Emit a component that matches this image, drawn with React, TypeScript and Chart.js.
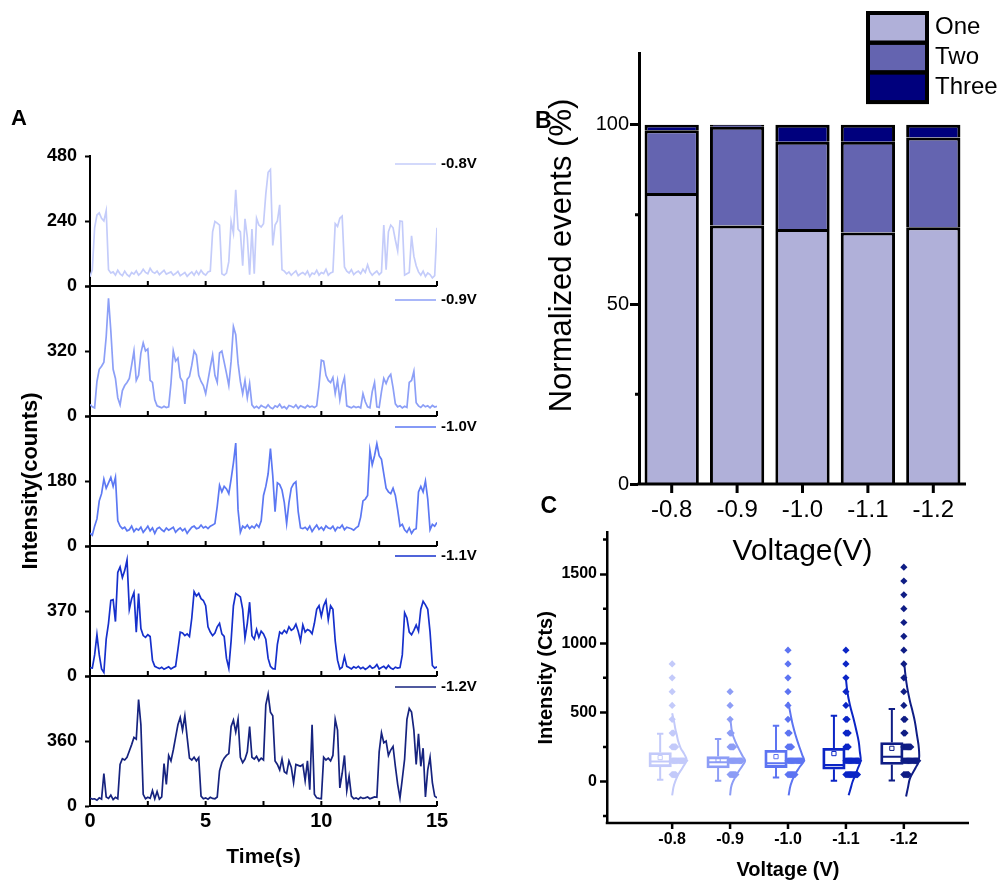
import React, { useEffect, useRef } from 'react';
import { Chart, registerables } from 'chart.js';

Chart.register(...registerables);

const FONT = '"Liberation Sans", Arial, Helvetica, sans-serif';
Chart.defaults.font.family = FONT;
Chart.defaults.color = '#000';

// ---------------- Panel A: single-molecule intensity traces ----------------
const TIME_S = Array.from({ length: 151 }, (_, i) => i / 10);

const TRACE_08 = [
  34, 60, 215, 262, 270, 250, 240, 278, 60, 48,
  52, 40, 58, 45, 38, 55, 42, 35, 50, 44,
  56, 40, 48, 62, 50, 45, 65, 52, 47, 55,
  42, 50, 58, 44, 48, 52, 40, 46, 54, 38,
  44, 50, 36, 45, 52, 40, 55, 42, 58, 46,
  40, 52, 55, 200, 238, 232, 225, 45, 40, 48,
  90, 238, 195, 355, 210, 200, 75, 248, 180, 42,
  210, 45, 250, 225, 218, 230, 340, 420, 430, 150,
  225, 240, 300, 60, 55, 45, 52, 40, 48, 56,
  38, 45, 50, 42, 55, 35, 48, 44, 58, 40,
  50, 46, 62, 40, 48, 52, 230, 220, 250, 258,
  70, 55, 48, 60, 42, 50, 55, 45, 62, 50,
  78, 52, 40, 48, 55, 42, 50, 225, 60, 200,
  225, 215, 170, 130, 240, 238, 40, 45, 50, 185,
  110, 75, 52, 40, 55, 35, 48, 42, 30, 38,
  215,
];

const TRACE_09 = [
  57, 45, 40, 170, 230, 245, 265, 390, 580, 420,
  230, 185, 90, 55, 125, 150, 165, 185, 250, 320,
  175, 200, 310, 360, 320, 330, 175, 165, 80, 50,
  45, 40, 48, 42, 45, 160, 320, 270, 285, 190,
  170, 60, 180, 195, 250, 320, 300, 200, 170, 150,
  110, 175, 240, 300, 200, 165, 310, 320, 265, 210,
  150, 270, 440, 400, 260, 170, 110, 175, 90, 160,
  55, 40, 48, 38, 52, 45, 40, 55, 42, 36,
  50, 44, 58, 40, 46, 35, 52, 48, 42, 55,
  38, 50, 45, 40, 52, 44, 48, 42, 50, 150,
  275, 270, 200, 175, 165, 190, 110, 175, 80, 150,
  190, 50, 45, 40, 48, 42, 46, 40, 110, 70,
  45, 40, 120, 165, 45, 42, 120, 185, 160, 190,
  205, 140, 60, 45, 50, 40, 48, 42, 165, 175,
  220, 65, 50, 42, 55, 45, 50, 40, 52, 44,
  48,
];

const TRACE_10 = [
  36, 30, 55, 75, 125, 145, 185, 160, 175, 190,
  165, 190, 70, 55, 48, 52, 42, 45, 55, 40,
  48, 44, 52, 38, 46, 55, 42, 50, 35, 48,
  52, 45, 40, 50, 44, 48, 52, 38, 45, 50,
  42, 48, 35, 44, 52, 55, 48, 50, 58, 50,
  54, 48, 55, 58, 62, 110, 168, 150, 165, 158,
  145, 185, 230, 285, 100, 38, 55, 50, 58, 48,
  55, 50, 60, 52, 70, 140, 165, 200, 270, 195,
  95, 175, 170, 155, 120, 62, 120, 160, 172, 178,
  95, 50, 48, 52, 45, 55, 40, 50, 58, 46,
  52, 44, 56, 50, 48, 55, 42, 52, 50, 58,
  45, 52, 50, 48, 44, 50, 55, 80, 125, 130,
  140, 265, 225, 250, 283, 250, 240, 200, 160, 150,
  145, 160, 140, 100, 55, 60, 45, 38, 50, 35,
  45, 48, 150, 165, 150, 180, 130, 45, 60, 55,
  65,
];

const TRACE_11 = [
  47, 45, 120, 235, 120, 40, 20, 210, 300, 430,
  435, 310, 590, 620, 560, 600, 660, 380, 440, 475,
  250, 470, 270, 230, 220, 235, 225, 90, 55, 48,
  42, 50, 38, 45, 52, 40, 48, 55, 150, 250,
  245, 230, 240, 225, 330, 480, 455, 470, 440, 430,
  400, 280, 250, 230, 245, 280, 300, 240, 225, 100,
  45, 200, 400, 470, 460, 450, 380, 215, 300, 420,
  230, 210, 265, 220, 255, 240, 210, 100, 55, 42,
  40, 180, 250, 240, 260, 245, 280, 260, 270, 295,
  255, 200, 290, 250, 265, 258, 240, 300, 380, 400,
  340, 400, 430, 320, 400, 380, 200, 90, 40, 50,
  110, 55, 48, 40, 52, 45, 55, 42, 50, 38,
  46, 58, 44, 50, 65, 40, 48, 55, 42, 60,
  45, 38, 50, 45, 48, 120, 360, 330, 250, 235,
  260, 290, 255, 380, 425, 405, 380, 250, 60, 45,
  52,
];

const TRACE_12 = [
  45, 38, 40, 32, 45, 38, 180, 50, 42, 60,
  35, 48, 40, 230, 262, 255, 270, 305, 340, 380,
  370, 590, 450, 65, 40, 48, 42, 85, 40, 80,
  38, 50, 235, 120, 280, 250, 310, 380, 450, 490,
  420, 500, 380, 265, 255, 270, 250, 268, 55, 40,
  45, 38, 48, 42, 40, 50, 195, 240, 265, 280,
  290, 440, 475, 410, 480, 270, 240, 260, 300, 440,
  270, 260, 275, 250, 265, 255, 560, 620, 520, 500,
  250, 230, 200, 260, 190, 180, 250, 215, 130, 230,
  225, 220, 230, 140, 250, 90, 450, 65, 45, 42,
  40, 270, 255, 265, 250, 280, 480, 420, 100, 180,
  280, 85, 165, 55, 40, 45, 38, 48, 42, 45,
  50, 40, 45, 50, 48, 300, 405, 350, 360, 280,
  310, 330, 220, 120, 45, 150, 260, 480, 540, 520,
  420, 230, 400, 220, 320, 50, 200, 270, 130, 55,
  45,
];

const TRACES = [TRACE_08, TRACE_09, TRACE_10, TRACE_11, TRACE_12];
const TRACE_LABELS = ['-0.8V', '-0.9V', '-1.0V', '-1.1V', '-1.2V'];
const TRACE_AXIS_MAX = [480, 640, 360, 740, 720];
const TRACE_TICK_STEP = [240, 320, 180, 370, 360];
const TRACE_COLORS = ['#c4ccfa', '#8c9ff7', '#5c78f3', '#1630cc', '#16237f'];

// ---------------- Panel B: normalized event fractions ----------------
const VOLTAGES = ['-0.8', '-0.9', '-1.0', '-1.1', '-1.2'];
const SHARE_ONE = [81, 72, 71, 70, 71.5];
const SHARE_TWO = [17.5, 27.5, 24.3, 25.3, 25];
const SHARE_THREE = [1.5, 0.5, 4.7, 4.7, 3.5];
const STEP_COLORS = ['#b0b0d9', '#6464b0', '#00007d'];

// ---------------- Panel C: intensity distributions ----------------
const BOX_Q1 = [106, 98, 101, 89, 123];
const BOX_Q3 = [210, 180, 226, 240, 282];
const BOX_MEDIAN = [144, 139, 132, 120, 179];
const BOX_MEAN = [173, 156, 180, 202, 240];
const WHISKER_LOW = [13, 5, 29, 5, 8];
const WHISKER_HIGH = [345, 308, 404, 476, 525];

const DOT_BINS = [50, 150, 250, 350, 450, 550, 650, 750, 850, 950, 1050, 1150, 1250, 1350, 1450, 1550];
const DOT_COUNTS_08 = [4, 12, 4, 2, 1, 1, 1, 1, 1];
const DOT_COUNTS_09 = [6, 11, 4, 2, 1, 1, 1];
const DOT_COUNTS_10 = [7, 13, 4, 2, 1, 1, 1, 1, 1, 1];
const DOT_COUNTS_11 = [11, 12, 3, 3, 2, 1, 1, 1, 1, 1];
const DOT_COUNTS_12 = [5, 13, 7, 2, 2, 1, 1, 1, 1, 1, 1, 1, 1, 1, 1, 1];

// fitted distribution curves: intensity levels and relative density
const CURVE_Y_08 = [-100, -24, 48, 100, 156, 200, 240, 290, 336, 380, 432, 493];
const CURVE_D_08 = [0, 0.12, 0.37, 0.65, 0.9, 0.75, 0.54, 0.38, 0.29, 0.2, 0.12, 0];
const CURVE_Y_09 = [-100, -24, 48, 120, 150, 180, 240, 288, 355, 451];
const CURVE_D_09 = [0, 0.1, 0.4, 0.8, 0.94, 0.8, 0.53, 0.33, 0.13, 0.02];
const CURVE_Y_10 = [-100, -24, 48, 108, 151, 192, 264, 336, 408, 480, 552, 576];
const CURVE_D_10 = [0.04, 0.17, 0.42, 0.75, 1.0, 0.89, 0.67, 0.47, 0.3, 0.17, 0.05, 0];
const CURVE_Y_11 = [-100, -48, 0, 48, 96, 151, 216, 288, 360, 457, 553, 649, 745];
const CURVE_D_11 = [0.17, 0.3, 0.42, 0.59, 0.75, 0.92, 0.87, 0.8, 0.67, 0.47, 0.25, 0.09, 0];
const CURVE_Y_12 = [-108, -48, 24, 96, 150, 240, 337, 433, 505, 577, 673, 769, 865];
const CURVE_D_12 = [0.14, 0.25, 0.39, 0.72, 0.94, 0.94, 0.82, 0.69, 0.55, 0.39, 0.22, 0.1, 0.02];

const DOT_COUNTS = [DOT_COUNTS_08, DOT_COUNTS_09, DOT_COUNTS_10, DOT_COUNTS_11, DOT_COUNTS_12];
const CURVE_Y = [CURVE_Y_08, CURVE_Y_09, CURVE_Y_10, CURVE_Y_11, CURVE_Y_12];
const CURVE_D = [CURVE_D_08, CURVE_D_09, CURVE_D_10, CURVE_D_11, CURVE_D_12];
const DIST_COLORS = ['#c3cafa', '#8d9df6', '#5d74f2', '#0b25c6', '#0f1d85'];

// layout constants (category units on the panel C x axis)
const BOX_SHIFT = -0.207;
const DOT_STEP = 0.02;
const DENSITY_SCALE = 0.276;

function font(size: number, bold = false) {
  return { family: FONT, size, weight: bold ? 'bold' : 'normal' } as any;
}

// bottom axis line plus tick marks (inward = pointing up into the plot)
function xAxisDecor(lineWidth: number, tickLen: number, inward: boolean) {
  return {
    id: 'xAxisDecor',
    afterDraw(chart: any) {
      const s = chart.scales.x;
      const { ctx, chartArea } = chart;
      const y = chartArea.bottom;
      ctx.save();
      ctx.strokeStyle = '#000';
      ctx.lineWidth = lineWidth;
      ctx.lineCap = 'butt';
      ctx.beginPath();
      ctx.moveTo(chartArea.left - lineWidth / 2, y);
      ctx.lineTo(chartArea.right, y);
      s.ticks.forEach((t: any) => {
        const p = s.getPixelForValue(t.value);
        ctx.moveTo(p, y);
        ctx.lineTo(p, inward ? y - tickLen : y + tickLen);
      });
      ctx.stroke();
      ctx.restore();
    },
  };
}

function traceLegend(label: string, color: string, dy: number) {
  return {
    id: 'traceLegend',
    afterDraw(chart: any) {
      const { ctx, chartArea } = chart;
      const y = chartArea.top + dy;
      ctx.save();
      ctx.strokeStyle = color;
      ctx.lineWidth = 1.6;
      ctx.beginPath();
      ctx.moveTo(chartArea.right - 42, y);
      ctx.lineTo(chartArea.right - 1, y);
      ctx.stroke();
      ctx.fillStyle = '#000';
      ctx.font = `bold 15px ${FONT}`;
      ctx.textBaseline = 'middle';
      ctx.textAlign = 'left';
      ctx.fillText(label, chartArea.right + 4, y);
      ctx.restore();
    },
  };
}

// short minor ticks on a left y axis (values that are not multiples of `major`)
function minorYTicks(major: number, len: number, width: number) {
  return {
    id: 'minorYTicks',
    afterDraw(chart: any) {
      const s = chart.scales.y;
      const { ctx } = chart;
      ctx.save();
      ctx.strokeStyle = '#000';
      ctx.lineWidth = width;
      ctx.beginPath();
      s.ticks.forEach((t: any) => {
        if (t.value % major === 0) return;
        const p = s.getPixelForValue(t.value);
        ctx.moveTo(s.right - len, p);
        ctx.lineTo(s.right, p);
      });
      ctx.stroke();
      ctx.restore();
    },
  };
}

// rotated y-axis title for the stacked bar panel, centred a little above the axis middle
function sideTitle(text: string, size: number, centerX: number, raise: number) {
  return {
    id: 'sideTitle',
    afterDraw(chart: any) {
      const { ctx, chartArea } = chart;
      ctx.save();
      ctx.translate(centerX, (chartArea.top + chartArea.bottom) / 2 - raise);
      ctx.rotate(-Math.PI / 2);
      ctx.fillStyle = '#000';
      ctx.font = `${size}px ${FONT}`;
      ctx.textAlign = 'center';
      ctx.textBaseline = 'middle';
      ctx.fillText(text, 0, 0);
      ctx.restore();
    },
  };
}

const stackLegend = {
  id: 'stackLegend',
  afterDraw(chart: any) {
    const { ctx, chartArea } = chart;
    const x = chartArea.right - 98;
    const w = 59;
    const h = 29.7;
    const y0 = 13;
    const sets = chart.data.datasets;
    ctx.save();
    sets.forEach((ds: any, i: number) => {
      ctx.fillStyle = ds.backgroundColor;
      ctx.fillRect(x, y0 + i * h, w, h);
    });
    ctx.strokeStyle = '#000';
    ctx.lineWidth = 4;
    sets.forEach((_: any, i: number) => ctx.strokeRect(x, y0 + i * h, w, h));
    ctx.fillStyle = '#000';
    ctx.font = `24px ${FONT}`;
    ctx.textBaseline = 'middle';
    ctx.textAlign = 'left';
    sets.forEach((ds: any, i: number) => ctx.fillText(ds.label, x + w + 8, y0 + i * h + h / 2));
    ctx.restore();
  },
};

const PLOT_A_TOP = 156;
const PLOT_A_H = 130;
const LEGEND_A_DY = [8, 14, 11, 10, 11];

function traceLayout(k: number) {
  const padTop = 30;
  const padBottom = k === 4 ? 72 : 30;
  return { padTop, padBottom, top: PLOT_A_TOP + PLOT_A_H * k - padTop, height: padTop + PLOT_A_H + padBottom };
}

function PanelA() {
  const refs = useRef<(HTMLCanvasElement | null)[]>([]);
  useEffect(() => {
    const charts = TRACES.map((vals, k) => {
      const { padTop, padBottom } = traceLayout(k);
      const isBottom = k === TRACES.length - 1;
      const max = TRACE_AXIS_MAX[k];
      return new Chart(refs.current[k] as HTMLCanvasElement, {
        type: 'line',
        data: {
          datasets: [
            {
              data: TIME_S.map((t, i) => ({ x: t, y: vals[i] })),
              borderColor: TRACE_COLORS[k],
              borderWidth: 1.7,
              pointRadius: 0,
              tension: 0,
              fill: false,
            },
          ],
        },
        options: {
          responsive: false,
          animation: false,
          events: [],
          layout: { padding: { top: padTop, right: 63, left: 0, bottom: 0 } },
          plugins: { legend: { display: false }, tooltip: { enabled: false } },
          scales: {
            x: {
              type: 'linear',
              min: 0,
              max: 15,
              afterFit: (s: any) => { s.height = padBottom; },
              border: { display: false },
              grid: { drawOnChartArea: false, drawTicks: false },
              ticks: {
                display: isBottom,
                stepSize: 2.5,
                autoSkip: false,
                maxRotation: 0,
                padding: 3,
                color: '#000',
                font: font(20, true),
                callback: (v: any) => (v % 5 === 0 ? String(v) : ''),
              },
              title: {
                display: isBottom,
                text: 'Time(s)',
                color: '#000',
                font: font(21, true),
                padding: { top: 0, bottom: 8 },
              },
            },
            y: {
              min: 0,
              max,
              afterFit: (s: any) => { s.width = 90; },
              border: { display: true, color: '#000', width: 2 },
              grid: { drawOnChartArea: false, tickLength: 5, tickWidth: 2, tickColor: '#000' },
              ticks: {
                stepSize: TRACE_TICK_STEP[k],
                padding: 8,
                color: '#000',
                font: font(18, true),
                callback: (v: any) => (k > 0 && v === max ? '' : String(v)),
              },
              title: {
                display: k === 2,
                text: 'Intensity(counts)',
                color: '#000',
                font: font(22, true),
                padding: { top: 18, bottom: 0 },
              },
            },
          },
        } as any,
        plugins: [xAxisDecor(2, 5, true), traceLegend(TRACE_LABELS[k], TRACE_COLORS[k], LEGEND_A_DY[k])],
      });
    });
    return () => charts.forEach((c) => c.destroy());
  }, []);
  return (
    <>
      {TRACES.map((_, k) => {
        const l = traceLayout(k);
        return (
          <canvas
            key={k}
            ref={(el) => { refs.current[k] = el; }}
            width={500}
            height={l.height}
            style={{ position: 'absolute', left: 0, top: l.top, display: 'block' }}
          />
        );
      })}
    </>
  );
}

function PanelB() {
  const ref = useRef<HTMLCanvasElement | null>(null);
  useEffect(() => {
    const barStyle = {
      borderColor: '#000',
      borderWidth: { top: 3, left: 3, right: 3, bottom: 0 },
      borderSkipped: false,
      categoryPercentage: 1,
      barPercentage: 0.83,
    };
    const chart = new Chart(ref.current as HTMLCanvasElement, {
      type: 'bar',
      data: {
        labels: VOLTAGES,
        datasets: [
          { label: 'One', data: SHARE_ONE, backgroundColor: STEP_COLORS[0], ...barStyle },
          { label: 'Two', data: SHARE_TWO, backgroundColor: STEP_COLORS[1], ...barStyle },
          { label: 'Three', data: SHARE_THREE, backgroundColor: STEP_COLORS[2], ...barStyle },
        ] as any,
      },
      options: {
        responsive: false,
        animation: false,
        events: [],
        layout: { padding: { top: 53, right: 39, left: 0, bottom: 0 } },
        plugins: { legend: { display: false }, tooltip: { enabled: false } },
        scales: {
          x: {
            stacked: true,
            offset: true,
            afterFit: (s: any) => { s.height = 96; },
            border: { display: false },
            grid: { offset: false, drawOnChartArea: false, drawTicks: false },
            ticks: { color: '#000', padding: 12, autoSkip: false, maxRotation: 0, font: font(24) },
            title: { display: true, text: 'Voltage(V)', color: '#000', font: font(30), padding: { top: 0, bottom: 10 } },
          },
          y: {
            stacked: true,
            min: 0,
            max: 120,
            afterFit: (s: any) => { s.width = 119; },
            border: { display: true, color: '#000', width: 3 },
            grid: {
              drawOnChartArea: false,
              tickLength: 9,
              tickWidth: 3,
              tickColor: (c: any) => (c.tick && c.tick.value % 50 === 0 ? '#000' : 'rgba(0,0,0,0)'),
            },
            ticks: {
              stepSize: 25,
              includeBounds: false,
              padding: 1,
              color: '#000',
              font: font(20),
              callback: (v: any) => (v % 50 === 0 ? String(v) : ''),
            },
            title: { display: false },
          },
        },
      } as any,
      plugins: [minorYTicks(50, 4, 3), xAxisDecor(3, 9, false), sideTitle('Normalized events (%)', 31, 42, 13), stackLegend],
    });
    return () => chart.destroy();
  }, []);
  return (
    <canvas ref={ref} width={485} height={580} style={{ position: 'absolute', left: 520, top: 0, display: 'block' }} />
  );
}

function PanelC() {
  const ref = useRef<HTMLCanvasElement | null>(null);
  useEffect(() => {
    const datasets: any[] = [];

    // boxes (interquartile range)
    datasets.push({
      type: 'bar',
      data: BOX_Q1.map((q, i) => ({ x: i + BOX_SHIFT, y: [q, BOX_Q3[i]] })),
      backgroundColor: 'rgba(255,255,255,0)',
      borderColor: DIST_COLORS,
      borderWidth: 2.2,
      borderSkipped: false,
      barThickness: 22.5,
    });

    // whiskers with caps
    VOLTAGES.forEach((_, i) => {
      const x = i + BOX_SHIFT;
      datasets.push({
        type: 'line',
        data: [
          { x, y: WHISKER_LOW[i] },
          { x, y: BOX_Q1[i] },
          { x, y: null },
          { x, y: BOX_Q3[i] },
          { x, y: WHISKER_HIGH[i] },
        ],
        borderColor: DIST_COLORS[i],
        borderWidth: 2,
        spanGaps: false,
        tension: 0,
        fill: false,
        pointStyle: 'line',
        pointRadius: [3.2, 0, 0, 0, 3.2],
        pointBorderWidth: 2,
        pointBorderColor: DIST_COLORS[i],
      });
    });

    // medians
    datasets.push({
      type: 'scatter',
      data: BOX_MEDIAN.map((m, i) => ({ x: i + BOX_SHIFT, y: m })),
      pointStyle: 'line',
      pointRadius: 10,
      pointBorderWidth: 2,
      pointBorderColor: DIST_COLORS,
      borderColor: DIST_COLORS,
    });

    // means
    datasets.push({
      type: 'scatter',
      data: BOX_MEAN.map((m, i) => ({ x: i + BOX_SHIFT, y: m })),
      pointStyle: 'rect',
      pointRadius: 3,
      pointBorderWidth: 1,
      pointBackgroundColor: '#fff',
      pointBorderColor: DIST_COLORS,
    });

    // binned data points, stacked sideways by count
    DOT_COUNTS.forEach((counts, i) => {
      const pts: { x: number; y: number }[] = [];
      counts.forEach((n, b) => {
        for (let k = 0; k < n; k++) pts.push({ x: i + k * DOT_STEP, y: DOT_BINS[b] });
      });
      datasets.push({
        type: 'scatter',
        data: pts,
        pointStyle: 'rectRot',
        pointRadius: 3.6,
        pointBorderWidth: 0,
        pointBackgroundColor: DIST_COLORS[i],
        pointBorderColor: DIST_COLORS[i],
      });
    });

    // distribution curves
    CURVE_Y.forEach((ys, i) => {
      datasets.push({
        type: 'line',
        data: ys.map((y, j) => ({ x: i + CURVE_D[i][j] * DENSITY_SCALE, y })),
        borderColor: DIST_COLORS[i],
        borderWidth: 2,
        pointRadius: 0,
        tension: 0.4,
        fill: false,
      });
    });

    const chart = new Chart(ref.current as HTMLCanvasElement, {
      type: 'scatter',
      data: { datasets },
      options: {
        responsive: false,
        animation: false,
        events: [],
        layout: { padding: { top: 10, right: 36, left: 0, bottom: 0 } },
        plugins: { legend: { display: false }, tooltip: { enabled: false } },
        scales: {
          x: {
            type: 'linear',
            min: -0.5,
            max: 4.5,
            afterBuildTicks: (s: any) => { s.ticks = VOLTAGES.map((_, i) => ({ value: i })); },
            afterFit: (s: any) => { s.height = 59; },
            border: { display: false },
            grid: { drawOnChartArea: false, drawTicks: false },
            ticks: {
              color: '#000',
              padding: 7,
              autoSkip: false,
              maxRotation: 0,
              font: font(16, true),
              callback: (v: any) => VOLTAGES[Math.round(v)] ?? '',
            },
            title: { display: true, text: 'Voltage (V)', color: '#000', font: font(20, true), padding: { top: 0, bottom: 0 } },
          },
          y: {
            min: -300,
            max: 1800,
            afterFit: (s: any) => { s.width = 87; },
            border: { display: true, color: '#000', width: 2.5 },
            grid: {
              drawOnChartArea: false,
              tickLength: 7,
              tickWidth: 2.5,
              tickColor: (c: any) => (c.tick && c.tick.value % 500 === 0 ? '#000' : 'rgba(0,0,0,0)'),
            },
            ticks: {
              stepSize: 250,
              includeBounds: false,
              padding: 3,
              color: '#000',
              font: font(16, true),
              callback: (v: any) => (v >= 0 && v % 500 === 0 ? String(v) : ''),
            },
            title: { display: true, text: 'Intensity (Cts)', color: '#000', font: font(20, true), padding: { top: 14, bottom: 0 } },
          },
        },
      } as any,
      plugins: [minorYTicks(500, 4, 2.5), xAxisDecor(2.5, 6, false)],
    });
    return () => chart.destroy();
  }, []);
  return (
    <canvas ref={ref} width={485} height={362} style={{ position: 'absolute', left: 520, top: 520, display: 'block' }} />
  );
}

const panelLetter = (left: number, top: number, size: number): React.CSSProperties => ({
  position: 'absolute',
  left,
  top,
  fontFamily: FONT,
  fontWeight: 'bold',
  fontSize: size,
  lineHeight: `${size}px`,
  color: '#000',
});

export default function App() {
  return (
    <div style={{ position: 'absolute', left: 0, top: 0, width: 1005, height: 882, background: '#fff', overflow: 'hidden' }}>
      <PanelA />
      <PanelB />
      <PanelC />
      <div style={panelLetter(11, 107, 22)}>A</div>
      <div style={panelLetter(535, 108.5, 23)}>B</div>
      <div style={panelLetter(540.5, 493.5, 23)}>C</div>
    </div>
  );
}
